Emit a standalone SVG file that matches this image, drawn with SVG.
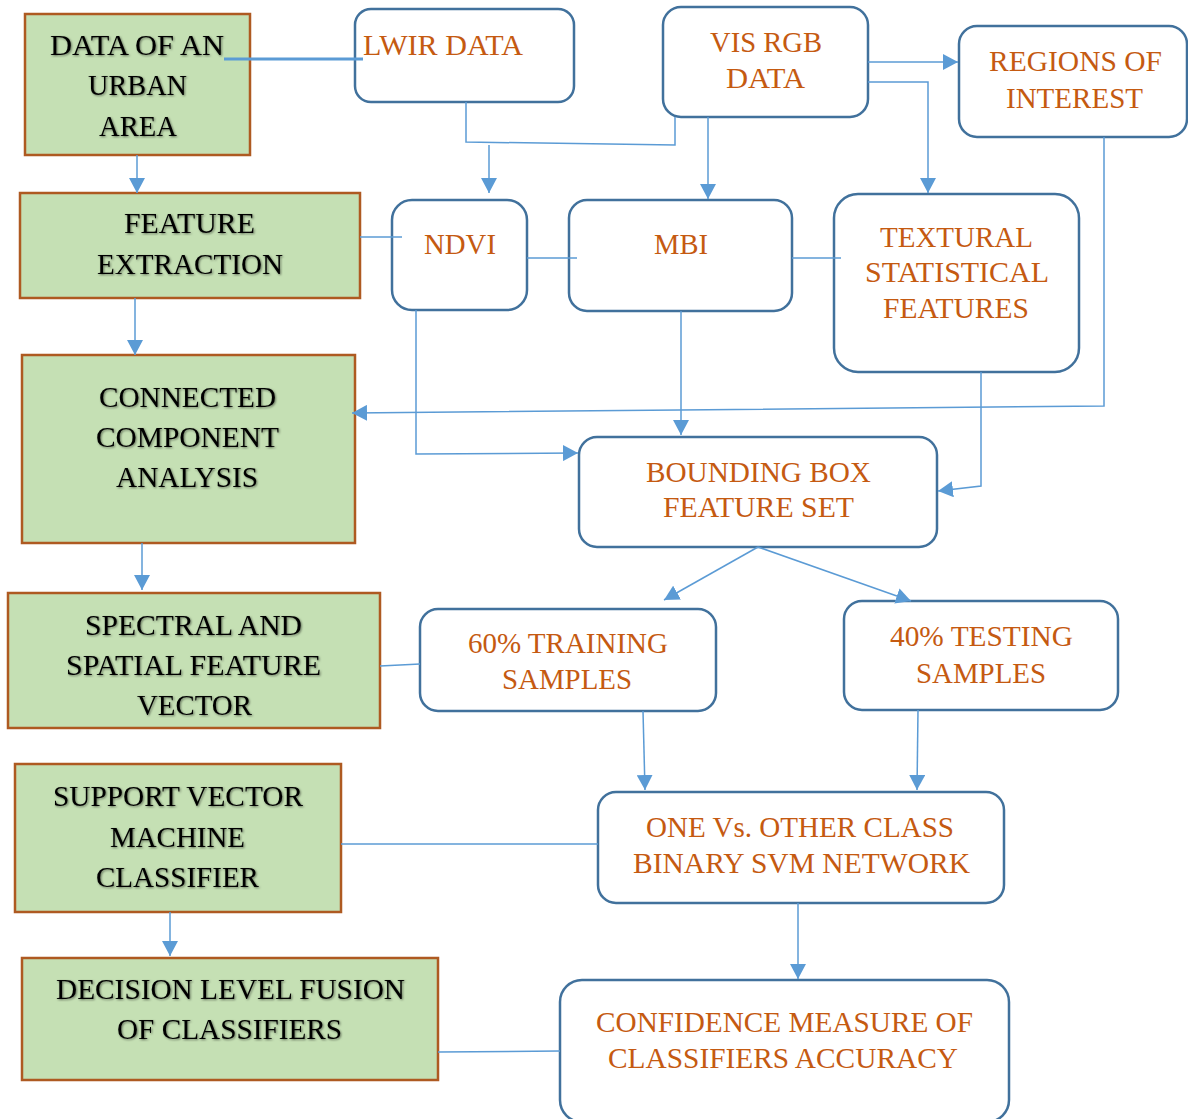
<svg xmlns="http://www.w3.org/2000/svg" width="1188" height="1119" viewBox="0 0 1188 1119">
  <defs>
    <marker id="arrow" markerUnits="userSpaceOnUse" markerWidth="16" markerHeight="16" refX="15" refY="8" orient="auto">
      <path d="M0,0 L15,8 L0,16 z" fill="#5b9bd5"/>
    </marker>
    <filter id="glow" x="-10%" y="-30%" width="120%" height="160%">
      <feDropShadow dx="1" dy="1" stdDeviation="0.9" flood-color="#000" flood-opacity="0.5"/>
    </filter>
  </defs>
  <style>
    .step { fill: #c5e0b4; stroke: #ae5a21; stroke-width: 2.5; }
    .data { fill: #ffffff; stroke: #41719c; stroke-width: 2.5; }
    .dark { font-family: "Liberation Serif", "Times New Roman", serif; font-size: 30px; fill: #000; text-anchor: middle; filter: url(#glow); }
    .warm { font-family: "Liberation Serif", "Times New Roman", serif; font-size: 30px; fill: #c55a11; text-anchor: middle; }
    .wire { fill: none; stroke: #5b9bd5; stroke-width: 1.5; }
    .wire.arr { marker-end: url(#arrow); }
    .wire.thick { stroke-width: 3; }
  </style>
  <rect width="1188" height="1119" fill="#ffffff"/>

  <!-- process steps (left column) -->
  <g id="urban-data">
    <rect class="step" x="25" y="14" width="225" height="141"/>
    <text class="dark" x="137" y="55" textLength="174" lengthAdjust="spacingAndGlyphs">DATA OF AN</text>
    <text class="dark" x="137.5" y="95" textLength="99" lengthAdjust="spacingAndGlyphs">URBAN</text>
    <text class="dark" x="138" y="136" textLength="78" lengthAdjust="spacingAndGlyphs">AREA</text>
  </g>
  <g id="feature-extraction">
    <rect class="step" x="20" y="193" width="340" height="105"/>
    <text class="dark" x="189.5" y="233" textLength="131" lengthAdjust="spacingAndGlyphs">FEATURE</text>
    <text class="dark" x="190" y="274" textLength="186" lengthAdjust="spacingAndGlyphs">EXTRACTION</text>
  </g>
  <g id="connected-component">
    <rect class="step" x="22" y="355" width="333" height="188"/>
    <text class="dark" x="187.5" y="407" textLength="177" lengthAdjust="spacingAndGlyphs">CONNECTED</text>
    <text class="dark" x="187.5" y="447" textLength="183" lengthAdjust="spacingAndGlyphs">COMPONENT</text>
    <text class="dark" x="187" y="487" textLength="142" lengthAdjust="spacingAndGlyphs">ANALYSIS</text>
  </g>
  <g id="feature-vector">
    <rect class="step" x="8" y="593" width="372" height="135"/>
    <text class="dark" x="193.5" y="635" textLength="217" lengthAdjust="spacingAndGlyphs">SPECTRAL AND</text>
    <text class="dark" x="193.5" y="675" textLength="255" lengthAdjust="spacingAndGlyphs">SPATIAL FEATURE</text>
    <text class="dark" x="194.5" y="715" textLength="115" lengthAdjust="spacingAndGlyphs">VECTOR</text>
  </g>
  <g id="svm-classifier">
    <rect class="step" x="15" y="764" width="326" height="148"/>
    <text class="dark" x="178" y="806" textLength="250" lengthAdjust="spacingAndGlyphs">SUPPORT VECTOR</text>
    <text class="dark" x="177.5" y="847" textLength="135" lengthAdjust="spacingAndGlyphs">MACHINE</text>
    <text class="dark" x="177.5" y="887" textLength="163" lengthAdjust="spacingAndGlyphs">CLASSIFIER</text>
  </g>
  <g id="decision-fusion">
    <rect class="step" x="22" y="958" width="416" height="122"/>
    <text class="dark" x="230.5" y="999" textLength="349" lengthAdjust="spacingAndGlyphs">DECISION LEVEL FUSION</text>
    <text class="dark" x="229.5" y="1039" textLength="225" lengthAdjust="spacingAndGlyphs">OF CLASSIFIERS</text>
  </g>

  <!-- data / feature nodes -->
  <g id="lwir-data">
    <rect class="data" x="355" y="9" width="219" height="93" rx="16"/>
    <text class="warm" x="443" y="55" textLength="160" lengthAdjust="spacingAndGlyphs">LWIR DATA</text>
  </g>
  <g id="vis-rgb-data">
    <rect class="data" x="663" y="7" width="205" height="110" rx="18"/>
    <text class="warm" x="766" y="52" textLength="112" lengthAdjust="spacingAndGlyphs">VIS RGB</text>
    <text class="warm" x="765.5" y="88" textLength="79" lengthAdjust="spacingAndGlyphs">DATA</text>
  </g>
  <g id="regions-of-interest">
    <rect class="data" x="959" y="26" width="228" height="111" rx="18"/>
    <text class="warm" x="1075.5" y="71" textLength="173" lengthAdjust="spacingAndGlyphs">REGIONS OF</text>
    <text class="warm" x="1074.5" y="108" textLength="137" lengthAdjust="spacingAndGlyphs">INTEREST</text>
  </g>
  <g id="ndvi">
    <rect class="data" x="392" y="200" width="135" height="110" rx="20"/>
    <text class="warm" x="460" y="254" textLength="72" lengthAdjust="spacingAndGlyphs">NDVI</text>
  </g>
  <g id="mbi">
    <rect class="data" x="569" y="200" width="223" height="111" rx="18"/>
    <text class="warm" x="681" y="254" textLength="54" lengthAdjust="spacingAndGlyphs">MBI</text>
  </g>
  <g id="textural-features">
    <rect class="data" x="834" y="194" width="245" height="178" rx="24"/>
    <text class="warm" x="956.5" y="247" textLength="153" lengthAdjust="spacingAndGlyphs">TEXTURAL</text>
    <text class="warm" x="957" y="282" textLength="184" lengthAdjust="spacingAndGlyphs">STATISTICAL</text>
    <text class="warm" x="956" y="318" textLength="146" lengthAdjust="spacingAndGlyphs">FEATURES</text>
  </g>
  <g id="bounding-box">
    <rect class="data" x="579" y="437" width="358" height="110" rx="18"/>
    <text class="warm" x="758.5" y="482" textLength="225" lengthAdjust="spacingAndGlyphs">BOUNDING BOX</text>
    <text class="warm" x="758.5" y="517" textLength="191" lengthAdjust="spacingAndGlyphs">FEATURE SET</text>
  </g>
  <g id="training-samples">
    <rect class="data" x="420" y="609" width="296" height="102" rx="18"/>
    <text class="warm" x="568" y="653" textLength="200" lengthAdjust="spacingAndGlyphs">60% TRAINING</text>
    <text class="warm" x="567" y="689" textLength="130" lengthAdjust="spacingAndGlyphs">SAMPLES</text>
  </g>
  <g id="testing-samples">
    <rect class="data" x="844" y="601" width="274" height="109" rx="18"/>
    <text class="warm" x="981.5" y="646" textLength="183" lengthAdjust="spacingAndGlyphs">40% TESTING</text>
    <text class="warm" x="981" y="683" textLength="130" lengthAdjust="spacingAndGlyphs">SAMPLES</text>
  </g>
  <g id="svm-network">
    <rect class="data" x="598" y="792" width="406" height="111" rx="18"/>
    <text class="warm" x="800" y="837" textLength="308" lengthAdjust="spacingAndGlyphs">ONE Vs. OTHER CLASS</text>
    <text class="warm" x="801.5" y="873" textLength="337" lengthAdjust="spacingAndGlyphs">BINARY SVM NETWORK</text>
  </g>
  <g id="confidence-measure">
    <rect class="data" x="560" y="980" width="449" height="142" rx="22"/>
    <text class="warm" x="784.5" y="1032" textLength="377" lengthAdjust="spacingAndGlyphs">CONFIDENCE MEASURE OF</text>
    <text class="warm" x="783" y="1068" textLength="350" lengthAdjust="spacingAndGlyphs">CLASSIFIERS ACCURACY</text>
  </g>

  <!-- connectors -->
  <g id="connectors">
    <path class="wire thick" d="M224,59 H363"/>
    <path class="wire arr" d="M137,155 V193"/>
    <path class="wire" d="M360,237 H402"/>
    <path class="wire" d="M466,102 V142 L675,145 V117"/>
    <path class="wire arr" d="M489,145 V193"/>
    <path class="wire arr" d="M708,117 V199"/>
    <path class="wire arr" d="M868,62 H958"/>
    <path class="wire arr" d="M868,82 H928 V193"/>
    <path class="wire" d="M527,258 H577"/>
    <path class="wire" d="M792,258 H841"/>
    <path class="wire arr" d="M1104,137 V406 L352,413"/>
    <path class="wire arr" d="M416,310 V454 L578,453"/>
    <path class="wire arr" d="M681,311 V435"/>
    <path class="wire arr" d="M981,372 V486 L938,491"/>
    <path class="wire arr" d="M135,298 V355"/>
    <path class="wire arr" d="M142,543 V590"/>
    <path class="wire arr" d="M758,547 L664,600"/>
    <path class="wire arr" d="M758,547 L911,601"/>
    <path class="wire" d="M380,666 L420,664"/>
    <path class="wire arr" d="M643,711 L645,790"/>
    <path class="wire arr" d="M918,710 L917,790"/>
    <path class="wire" d="M341,844 H598"/>
    <path class="wire arr" d="M170,912 V956"/>
    <path class="wire arr" d="M798,903 V979"/>
    <path class="wire" d="M438,1052 L560,1051"/>
  </g>
</svg>
